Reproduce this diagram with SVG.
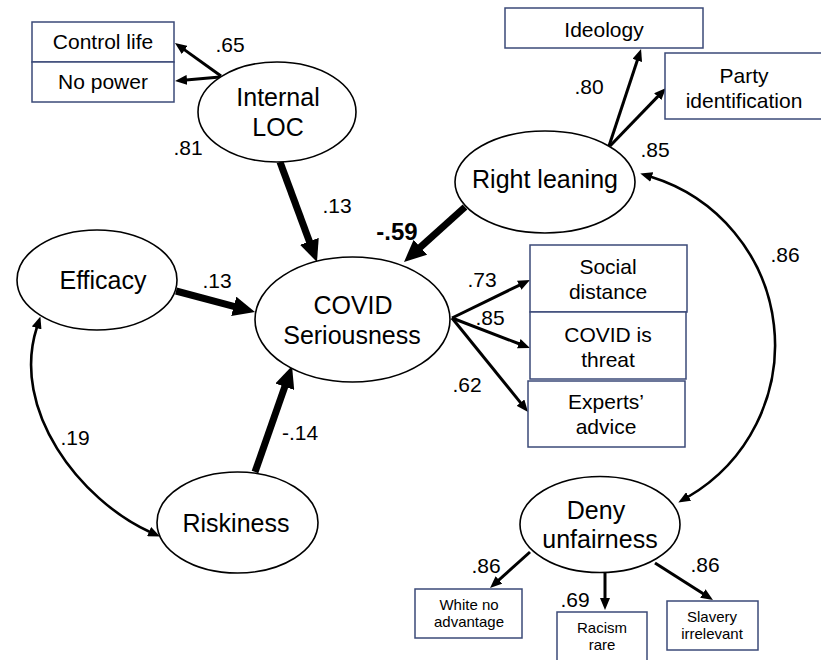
<svg xmlns="http://www.w3.org/2000/svg" width="821" height="660" viewBox="0 0 821 660">
<style>
  .bg{fill:#ffffff}
  .lat{fill:#ffffff;stroke:#000000;stroke-width:1.6}
  .obs{fill:#ffffff;stroke:#3b4a78;stroke-width:1.5}
  text{font-family:"Liberation Sans",Arial,sans-serif;fill:#000000;text-anchor:middle}
  .tl{font-size:25px}
  .tm{font-size:21px}
  .ts{font-size:15px}
  .num{font-size:21px}
  .bold{font-size:24px;font-weight:bold}
  .thin{stroke:#000;stroke-width:3;fill:none;marker-end:url(#ah)}
  .thick{stroke:#000;stroke-width:7;fill:none;marker-end:url(#ahb)}
  .cov{stroke:#000;stroke-width:2.6;fill:none;marker-start:url(#ah);marker-end:url(#ah)}
</style>
<defs>
  <marker id="ah" markerUnits="userSpaceOnUse" markerWidth="12" markerHeight="10" refX="1" refY="5" orient="auto-start-reverse">
    <path d="M0,0 L12,5 L0,10 z" fill="#000"/>
  </marker>
  <marker id="ahb" markerUnits="userSpaceOnUse" markerWidth="22" markerHeight="20" refX="1" refY="10" orient="auto">
    <path d="M0,0 L22,10 L0,20 z" fill="#000"/>
  </marker>
</defs>
<rect class="bg" x="0" y="0" width="821" height="660"/>

<g id="connectors">
  <line class="thin" x1="221" y1="76" x2="183.9" y2="49.4"/>
  <line class="thin" x1="220" y1="77" x2="186" y2="80"/>
  <line class="thin" x1="609" y1="146" x2="637.6" y2="59.5"/>
  <line class="thin" x1="610" y1="146" x2="658.4" y2="95.9"/>
  <line class="thick" x1="280" y1="162" x2="309.7" y2="242.3"/>
  <line class="thick" x1="465" y1="207" x2="419.6" y2="247.9"/>
  <line class="thick" x1="176" y1="291" x2="234.7" y2="306.6"/>
  <line class="thick" x1="255" y1="472" x2="285.1" y2="385.8"/>
  <line class="thin" x1="452" y1="318" x2="520.1" y2="284.8"/>
  <line class="thin" x1="452" y1="318" x2="519.7" y2="344"/>
  <line class="thin" x1="452" y1="318" x2="521.1" y2="403.4"/>
  <line class="thin" x1="530" y1="552" x2="498.2" y2="580.6"/>
  <line class="thin" x1="605" y1="573" x2="605" y2="599"/>
  <line class="thin" x1="655" y1="563" x2="703.7" y2="594.1"/>
  <path class="cov" d="M650.8,176.8 A176,176 0 0 1 687.8,497"/>
  <path class="cov" d="M37,327 C10,410 80,500 150,532"/>
  <text class="num" x="230" y="52">.65</text>
  <text class="num" x="188" y="155">.81</text>
  <text class="num" x="589" y="94">.80</text>
  <text class="num" x="655" y="157">.85</text>
  <text class="num" x="337" y="213">.13</text>
  <text class="bold" x="397" y="240">-.59</text>
  <text class="num" x="217" y="288">.13</text>
  <text class="num" x="482" y="287">.73</text>
  <text class="num" x="490" y="325">.85</text>
  <text class="num" x="467" y="392">.62</text>
  <text class="num" x="785" y="262">.86</text>
  <text class="num" x="75" y="445">.19</text>
  <text class="num" x="300" y="440">-.14</text>
  <text class="num" x="486" y="573">.86</text>
  <text class="num" x="575" y="607">.69</text>
  <text class="num" x="705" y="572">.86</text>
</g>

<g id="control-life">
  <rect class="obs" x="32" y="22" width="142" height="40"/>
  <text class="tm" x="103" y="49">Control life</text>
</g>
<g id="no-power">
  <rect class="obs" x="32" y="62" width="142" height="40"/>
  <text class="tm" x="103" y="89">No power</text>
</g>
<g id="internal-loc">
  <ellipse class="lat" cx="277" cy="112" rx="79" ry="50"/>
  <text class="tl" x="278" y="106">Internal</text>
  <text class="tl" x="278" y="136">LOC</text>
</g>
<g id="ideology">
  <rect class="obs" x="505" y="8" width="198" height="40"/>
  <text class="tm" x="604" y="37">Ideology</text>
</g>
<g id="party-identification">
  <rect class="obs" x="665" y="53" width="158" height="66"/>
  <text class="tm" x="744" y="83">Party</text>
  <text class="tm" x="744" y="108">identification</text>
</g>
<g id="right-leaning">
  <ellipse class="lat" cx="545" cy="182" rx="90" ry="51"/>
  <text class="tl" x="545" y="188">Right leaning</text>
</g>
<g id="efficacy">
  <ellipse class="lat" cx="97" cy="280" rx="80" ry="50"/>
  <text class="tl" x="103" y="289">Efficacy</text>
</g>
<g id="covid-seriousness">
  <ellipse class="lat" cx="352.5" cy="319.5" rx="97.5" ry="62.5"/>
  <text class="tl" x="353" y="314">COVID</text>
  <text class="tl" x="352" y="344">Seriousness</text>
</g>
<g id="social-distance">
  <rect class="obs" x="530" y="245" width="157" height="67"/>
  <text class="tm" x="608" y="274">Social</text>
  <text class="tm" x="608" y="299">distance</text>
</g>
<g id="covid-threat">
  <rect class="obs" x="530" y="312" width="156" height="67"/>
  <text class="tm" x="608" y="342">COVID is</text>
  <text class="tm" x="608" y="367">threat</text>
</g>
<g id="experts-advice">
  <rect class="obs" x="528" y="381" width="157" height="66"/>
  <text class="tm" x="606" y="409">Experts’</text>
  <text class="tm" x="606" y="434">advice</text>
</g>
<g id="riskiness">
  <ellipse class="lat" cx="237.5" cy="522.5" rx="80.5" ry="50.5"/>
  <text class="tl" x="236" y="532">Riskiness</text>
</g>
<g id="deny-unfairness">
  <ellipse class="lat" cx="600" cy="524.5" rx="80" ry="48"/>
  <text class="tl" x="596" y="519">Deny</text>
  <text class="tl" x="600" y="548">unfairness</text>
</g>
<g id="white-no-advantage">
  <rect class="obs" x="415" y="589" width="107" height="49"/>
  <text class="ts" x="469" y="610">White no</text>
  <text class="ts" x="469" y="627">advantage</text>
</g>
<g id="racism-rare">
  <rect class="obs" x="557" y="612" width="90" height="52"/>
  <text class="ts" x="602" y="633">Racism</text>
  <text class="ts" x="602" y="650">rare</text>
</g>
<g id="slavery-irrelevant">
  <rect class="obs" x="667" y="601" width="91" height="49"/>
  <text class="ts" x="712" y="622">Slavery</text>
  <text class="ts" x="712" y="639">irrelevant</text>
</g>
</svg>
